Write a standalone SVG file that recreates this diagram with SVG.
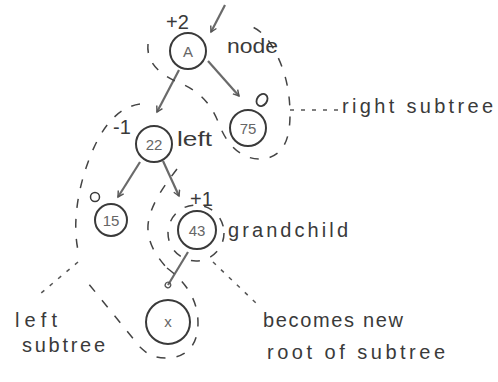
<svg xmlns="http://www.w3.org/2000/svg" width="498" height="382" viewBox="0 0 498 382">
<style>
.node circle{fill:none;stroke:#3a3a3a;stroke-width:2}
.lbl{font-family:"Liberation Sans","DejaVu Sans",sans-serif;fill:#3a3a3a}
.in{font-size:15px;fill:#666;text-anchor:middle}
.note{font-size:20px}
.conn{fill:none;stroke:#6a6a6a;stroke-width:2.2}
.dash{fill:none;stroke:#444;stroke-width:1.5;stroke-dasharray:9 11}
.dot{fill:none;stroke:#555;stroke-width:1.5;stroke-dasharray:4 7}
</style>
<defs>
<marker id="v" viewBox="0 0 10 10" refX="8" refY="5" markerWidth="8" markerHeight="8" orient="auto" markerUnits="userSpaceOnUse">
<path d="M1,1 L8,5 L1,9" fill="none" stroke="#555" stroke-width="1.8"/>
</marker>
<marker id="o" viewBox="0 0 10 10" refX="5" refY="5" markerWidth="8" markerHeight="8" orient="auto" markerUnits="userSpaceOnUse">
<circle cx="5" cy="5" r="3.5" fill="none" stroke="#555" stroke-width="1.6"/>
</marker>
</defs>
<rect width="498" height="382" fill="#fff"/>
<g id="connectors">
<path class="conn" d="M225,5 L211,32" marker-end="url(#v)"/>
<path class="conn" d="M208,61 L239,96" marker-end="url(#v)"/>
<path class="conn" d="M179,70 L157,112" marker-end="url(#v)"/>
<path class="conn" d="M140,162 L118,197" marker-end="url(#v)"/>
<path class="conn" d="M163,161 L179,196" marker-end="url(#v)"/>
<path class="conn" d="M188,252 L168,285" marker-end="url(#o)"/>
</g>
<g id="outlines">
<path class="dash" d="M148,44 C146,64 162,76 182,84 C202,93 212,106 219,124 C228,148 244,160 262,159 C283,157 290,140 290,115 C290,90 285,68 272,46 C264,33 256,27 246,25"/>
<path class="dash" d="M140,104 C112,108 96,138 86,168 C76,198 72,232 80,258"/>
<path class="dash" d="M177,169 C164,186 150,205 148,225 C147,242 156,256 167,268"/>
<path class="dash" d="M167,268 C186,282 198,300 198,323 C198,346 186,358 166,358 C150,358 146,352 140,347 L88,283"/>
<circle class="dash" cx="196" cy="233" r="28"/>
<path class="dot" d="M290,110 L338,110"/>
<path class="dot" d="M78,262 L40,294"/>
<path class="dot" d="M213,262 L256,303"/>
</g>
<g id="node-A" class="node">
<circle cx="188" cy="51" r="18"/>
<text class="lbl in" x="188" y="57">A</text>
<text class="lbl note" x="166" y="29">+2</text>
</g>
<g id="node-75" class="node">
<circle cx="248" cy="128" r="18"/>
<text class="lbl in" x="248" y="134">75</text>
<ellipse cx="262" cy="100" rx="5" ry="6.5" transform="rotate(35 262 100)" fill="none" stroke="#3a3a3a" stroke-width="1.8"/>
</g>
<g id="node-22" class="node">
<circle cx="154" cy="144" r="18"/>
<text class="lbl in" x="154" y="150">22</text>
<text class="lbl note" x="113" y="134">-1</text>
</g>
<g id="node-15" class="node">
<circle cx="111" cy="220" r="16"/>
<text class="lbl in" x="111" y="226">15</text>
<circle cx="95" cy="197" r="4.5" style="stroke-width:1.5"/>
</g>
<g id="node-43" class="node">
<circle cx="197" cy="230" r="19"/>
<text class="lbl in" x="197" y="236">43</text>
<text class="lbl note" x="190" y="206">+1</text>
</g>
<g id="node-x" class="node">
<circle cx="168" cy="322" r="22"/>
<text class="lbl in" x="168" y="327">x</text>
</g>
<g id="labels">
<text class="lbl note" x="227" y="53" textLength="51" lengthAdjust="spacingAndGlyphs">node</text>
<text class="lbl note" x="177" y="146" textLength="35" lengthAdjust="spacingAndGlyphs">left</text>
<text class="lbl note" x="228" y="237" textLength="120" lengthAdjust="spacing">grandchild</text>
<text class="lbl note" x="342" y="113" textLength="151" lengthAdjust="spacing">right subtree</text>
<text class="lbl note" x="15" y="327" textLength="42" lengthAdjust="spacing">left</text>
<text class="lbl note" x="22" y="352" textLength="83" lengthAdjust="spacing">subtree</text>
<text class="lbl note" x="263" y="327" textLength="140" lengthAdjust="spacing">becomes new</text>
<text class="lbl note" x="267" y="359" textLength="178" lengthAdjust="spacing">root of subtree</text>
</g>
</svg>
